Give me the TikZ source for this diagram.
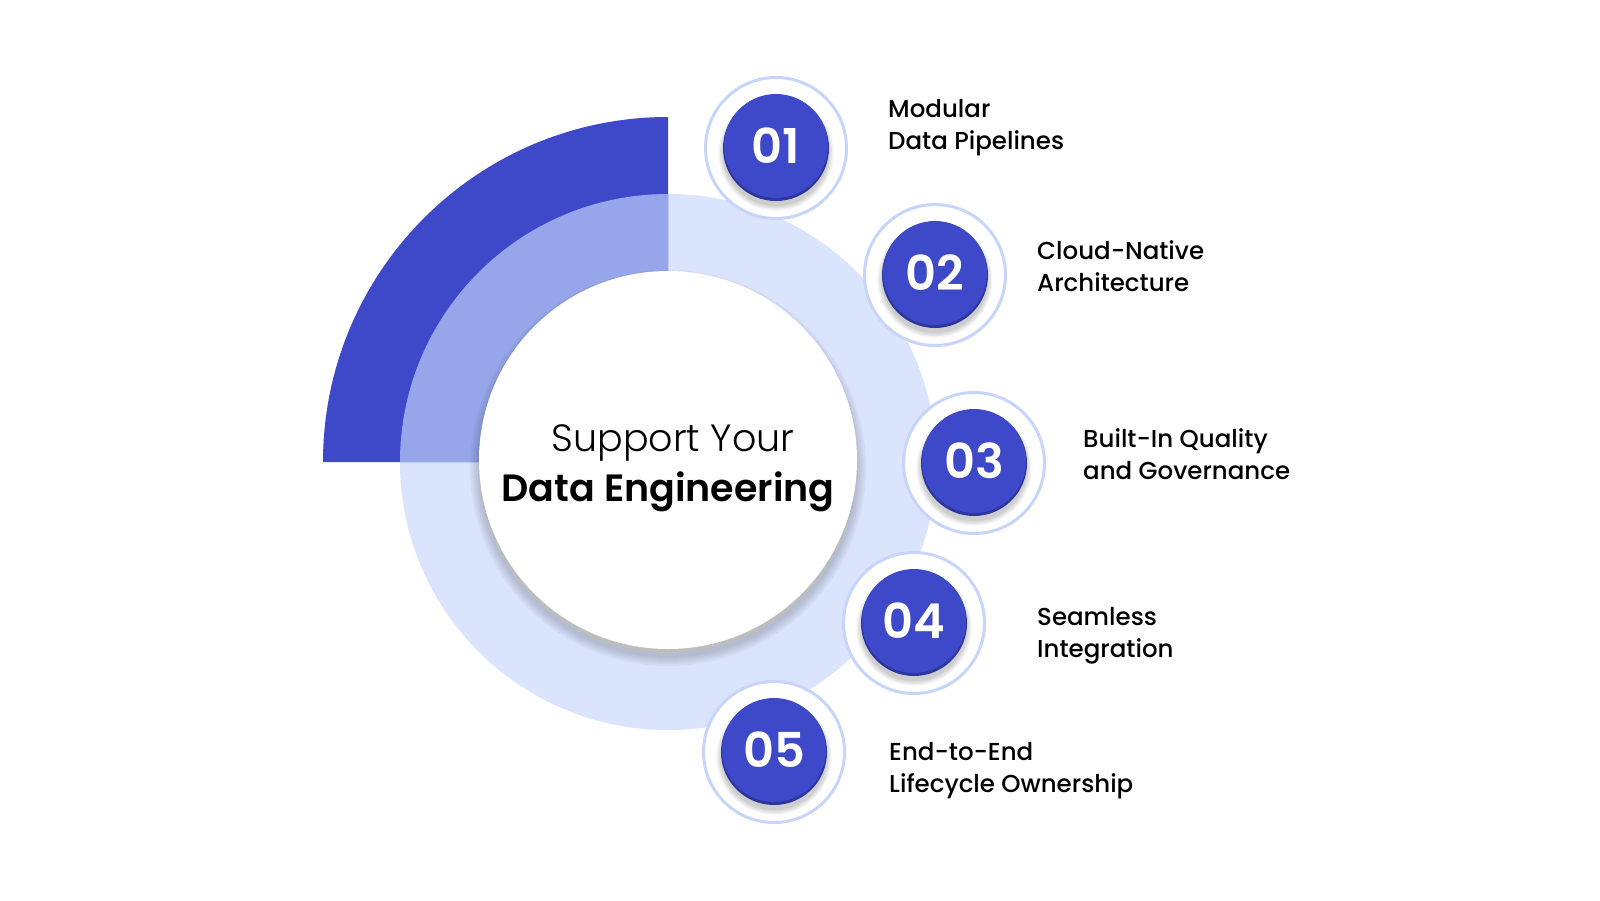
\documentclass[tikz,border=0pt]{standalone}
\usepackage{fontspec}
\setmainfont{Poppins}
\newfontfamily\medfont{Poppins Medium}
\newfontfamily\lightfont{Poppins Light}
\newfontfamily\semifont{Poppins SemiBold}
\definecolor{darkb}{HTML}{3D49C9}
\definecolor{midb}{HTML}{97A6EA}
\definecolor{lightb}{HTML}{DAE4FC}
\definecolor{ringb}{HTML}{C8D5FA}
\definecolor{diskedge}{HTML}{2C369C}
\definecolor{shadowgray}{HTML}{BDBDBD}
\tikzset{
  numring/.style={circle, draw=ringb, line width=3pt, fill=white, minimum size=141pt, inner sep=0pt},
  numdisk/.style={circle, fill=darkb, minimum size=104pt, inner sep=0pt, text=white,
    font=\semifont\fontsize{48}{48}\selectfont},
  labeltext/.style={anchor=base west, inner sep=0pt, text=black,
    font=\medfont\fontsize{24.5}{32}\selectfont},
  hubdisk/.style={circle, fill=white, minimum size=378pt, inner sep=0pt},
}
\begin{document}
\begin{tikzpicture}[x=1pt,y=-1pt]
\useasboundingbox (0,0) rectangle (1600,900);
\fill[white] (0,0) rectangle (1600,900);
\coordinate (C) at (668,462);
% rings of the big circle
\fill[lightb] (C) circle[radius=268];
\fill[darkb] (C) -- (323,462) arc[start angle=180,end angle=270,radius=345] -- cycle;
\fill[midb] (C) -- (400,462) arc[start angle=180,end angle=270,radius=268] -- cycle;
% shadow of hub
\foreach \r in {190,192,194,196,198}
  \fill[black,opacity=0.035] (668,468) circle[radius=\r];
\fill[shadowgray] (668,464) circle[radius=189];
\node[hubdisk] (hub) at (668,460) {};
\node[anchor=base, inner sep=0pt, font=\lightfont\fontsize{38}{44}\selectfont] (t1) at (673,451) {Support Your};
\node[anchor=base, inner sep=0pt, font=\semifont\fontsize{38}{44}\selectfont] (t2) at (668,501) {Data Engineering};
% numbered items
\foreach \i/\cx/\cy/\tx/\ty/\la/\lb in {
  1/776/148/888/117/Modular/Data Pipelines,
  2/935/275/1037/259/Cloud-Native/Architecture,
  3/974/463/1083/447/Built-In Quality/and Governance,
  4/914/623/1037/625/Seamless/Integration,
  5/774/752/889/760/End-to-End/Lifecycle Ownership}{
  \node[numring] (r\i) at (\cx,\cy) {};
  \foreach \r in {53,54.5,56,57.5}
    \fill[black,opacity=0.05] (\cx,\cy+5) circle[radius=\r];
  \fill[diskedge] (\cx,\cy) circle[radius=53];
  \node[numdisk] (n\i) at (\cx,\cy-2) {0\i};
  \node[labeltext] (l\i) at (\tx,\ty) {\vtop{\hbox{\la}\hbox{\lb}}};
}
\end{tikzpicture}
\end{document}
